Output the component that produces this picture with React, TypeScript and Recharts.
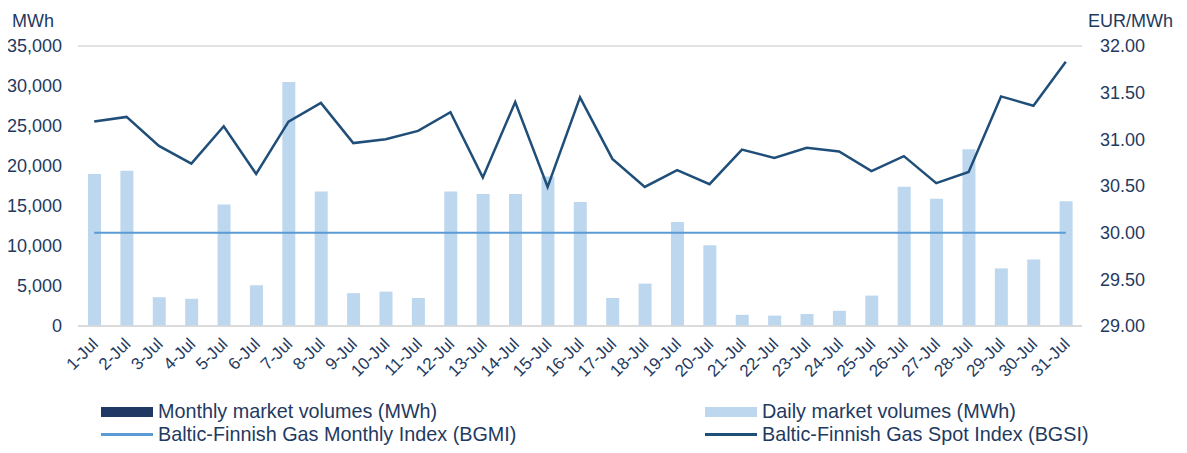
import React from 'react';
import {
  ComposedChart,
  Bar,
  Line,
  XAxis,
  YAxis,
  CartesianGrid
} from 'recharts';

const days = [
  '1-Jul', '2-Jul', '3-Jul', '4-Jul', '5-Jul', '6-Jul', '7-Jul', '8-Jul', '9-Jul', '10-Jul',
  '11-Jul', '12-Jul', '13-Jul', '14-Jul', '15-Jul', '16-Jul', '17-Jul', '18-Jul', '19-Jul', '20-Jul',
  '21-Jul', '22-Jul', '23-Jul', '24-Jul', '25-Jul', '26-Jul', '27-Jul', '28-Jul', '29-Jul', '30-Jul', '31-Jul'
];

const dailyVolumes = [
  19000, 19400, 3600, 3400, 15200, 5100, 30500, 16800, 4100, 4300,
  3500, 16800, 16500, 16500, 18700, 15500, 3500, 5300, 13000, 10100,
  1400, 1300, 1500, 1900, 3800, 17400, 15900, 22100, 7200, 8300, 15600
];

const spotIndex = [
  31.19, 31.24, 30.93, 30.74, 31.14, 30.63, 31.19, 31.39, 30.96, 31.0,
  31.09, 31.29, 30.59, 31.4, 30.49, 31.45, 30.79, 30.49, 30.67, 30.52,
  30.89, 30.8, 30.91, 30.87, 30.66, 30.82, 30.53, 30.65, 31.46, 31.36, 31.83
];

const monthlyIndex = 30.0;

const volumeTicks = [0, 5000, 10000, 15000, 20000, 25000, 30000, 35000];
const priceTicks = [29, 29.5, 30, 30.5, 31, 31.5, 32];

const data = days.map((day, i) => ({
  day,
  daily: dailyVolumes[i],
  spot: spotIndex[i],
  monthly: monthlyIndex
}));

const textColor = '#1F3A5F';
const font = '"Liberation Sans", Arial, sans-serif';

const DayTick = (props: any) => {
  const { x, y, payload } = props;
  return (
    <text
      transform={`translate(${x + 5},${y + 11}) rotate(-45)`}
      textAnchor="end"
      fill={textColor}
      fontSize={17}
      fontFamily={font}
    >
      {payload.value}
    </text>
  );
};

const unitText: React.CSSProperties = {
  position: 'absolute',
  fontSize: 18,
  color: textColor,
  fontFamily: font,
  lineHeight: '20px'
};

const legendText: React.CSSProperties = {
  position: 'absolute',
  fontSize: 19.8,
  color: textColor,
  fontFamily: font,
  lineHeight: '22px',
  whiteSpace: 'nowrap'
};

export default function App() {
  return (
    <div style={{ position: 'relative', width: 1187, height: 453, margin: -8, background: '#fff', overflow: 'hidden' }}>
      <div style={{ ...unitText, left: 12, top: 11 }}>MWh</div>
      <div style={{ ...unitText, left: 1088, top: 11 }}>EUR/MWh</div>
      <ComposedChart
        width={1187}
        height={400}
        data={data}
        margin={{ top: 46, right: 0, left: 0, bottom: 0 }}
        barCategoryGap={0}
      >
        <CartesianGrid vertical={false} stroke="#D9D9D9" strokeWidth={1.5} />
        <XAxis
          dataKey="day"
          interval={0}
          height={74}
          tick={<DayTick />}
          tickLine={false}
          axisLine={{ stroke: '#D9D9D9', strokeWidth: 1.5 }}
        />
        <YAxis
          yAxisId="vol"
          orientation="left"
          width={78}
          domain={[0, 35000]}
          ticks={volumeTicks}
          tickFormatter={(v: number) => v.toLocaleString('en-US')}
          tick={{ fill: textColor, fontSize: 18, fontFamily: font }}
          tickLine={false}
          axisLine={false}
          tickMargin={10}
        />
        <YAxis
          yAxisId="price"
          orientation="right"
          width={105}
          domain={[29, 32]}
          ticks={priceTicks}
          tickFormatter={(v: number) => v.toFixed(2)}
          tick={{ fill: textColor, fontSize: 18, fontFamily: font }}
          tickLine={false}
          axisLine={false}
          tickMargin={12}
        />
        <Bar yAxisId="vol" dataKey="daily" fill="#BDD7EE" barSize={13} isAnimationActive={false} />
        <Line
          yAxisId="price"
          dataKey="monthly"
          stroke="#5B9BD5"
          strokeWidth={2}
          dot={false}
          isAnimationActive={false}
        />
        <Line
          yAxisId="price"
          dataKey="spot"
          type="linear"
          stroke="#1F4E79"
          strokeWidth={2.5}
          dot={false}
          isAnimationActive={false}
        />
      </ComposedChart>
      <div style={{ position: 'absolute', left: 101, top: 407, width: 52, height: 10, background: '#1F3864' }} />
      <div style={{ ...legendText, left: 158, top: 400 }}>Monthly market volumes (MWh)</div>
      <div style={{ position: 'absolute', left: 705, top: 407, width: 52, height: 10, background: '#BDD7EE' }} />
      <div style={{ ...legendText, left: 762, top: 400 }}>Daily market volumes (MWh)</div>
      <div style={{ position: 'absolute', left: 101, top: 433, width: 52, height: 3, background: '#5B9BD5' }} />
      <div style={{ ...legendText, left: 158, top: 423 }}>Baltic-Finnish Gas Monthly Index (BGMI)</div>
      <div style={{ position: 'absolute', left: 705, top: 433, width: 52, height: 3, background: '#1F4E79' }} />
      <div style={{ ...legendText, left: 762, top: 423 }}>Baltic-Finnish Gas Spot Index (BGSI)</div>
    </div>
  );
}
